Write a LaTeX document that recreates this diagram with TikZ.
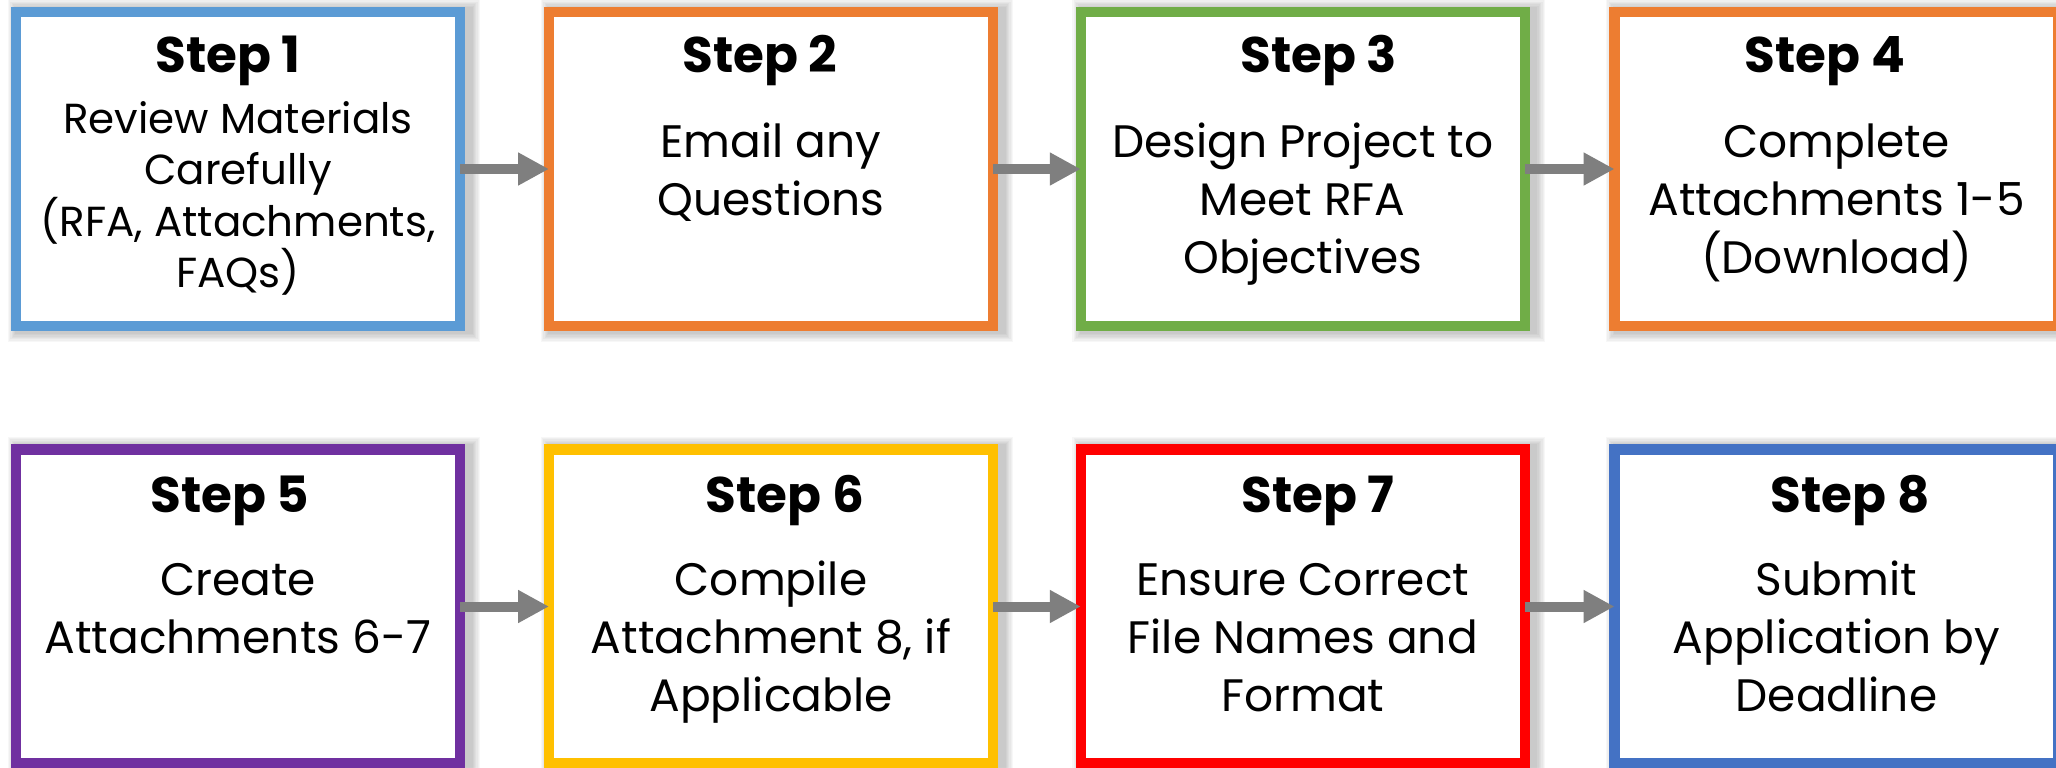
\documentclass[tikz,border=0pt]{standalone}
\usepackage{fontspec}
\setmainfont{Poppins}
\usetikzlibrary{arrows.meta,backgrounds}
\definecolor{cblue}{HTML}{5B9BD5}
\definecolor{corange}{HTML}{ED7D31}
\definecolor{cgreen}{HTML}{70AD47}
\definecolor{cpurple}{HTML}{7030A0}
\definecolor{cgold}{HTML}{FFC000}
\definecolor{cred}{HTML}{FF0000}
\definecolor{cdblue}{HTML}{4472C4}
\definecolor{arrowgray}{HTML}{7F7F7F}
\begin{document}
\begin{tikzpicture}[x=0.5pt,y=-0.5pt,
  stepbox/.style={draw=#1, fill=white, line width=5.25pt, minimum width=222pt, minimum height=157pt, inner sep=0pt, outer sep=0pt},
  headtext/.style={anchor=base, font=\bfseries\fontsize{25}{30}\selectfont, inner sep=0pt},
  bodytext/.style={anchor=base, align=center, font=\fontsize{22.75}{29}\selectfont, inner sep=0pt},
  smallbody/.style={bodytext, font=\fontsize{21}{25.75}\selectfont},
  arr/.style={draw=arrowgray, line width=5pt, -{Triangle[length=15.5pt,width=15.5pt]}},
]
\clip (0,0) rectangle (2056,767);
% boxes
\node[stepbox=cblue]   (s1) at (238,169) {};
\node[stepbox=corange] (s2) at (771,169) {};
\node[stepbox=cgreen]  (s3) at (1302.75,169) {};
\node[stepbox=corange] (s4) at (1836.5,169) {};
\node[stepbox=cpurple] (s5) at (238,606.5) {};
\node[stepbox=cgold]   (s6) at (771,606.5) {};
\node[stepbox=cred]    (s7) at (1302.75,606.5) {};
\node[stepbox=cdblue]  (s8) at (1836.5,606.5) {};
% background and soft shadows
\begin{scope}[on background layer]
\fill[white] (0,0) rectangle (2056,767);
\foreach \k in {1,...,8}{
  \foreach \i [evaluate=\i as \e using 5.25+1.3*\i] in {1,...,7}{
    \fill[black,opacity=0.03] ([shift={(6-\e,1.5-\e)}]s\k.north west) rectangle ([shift={(6+\e,1.5+\e)}]s\k.south east);
  }
}
\end{scope}
% headings
\node[headtext] (h1) at (228,72) {Step 1};
\node[headtext] (h2) at (760,72) {Step 2};
\node[headtext] (h3) at (1318.7,72) {Step 3};
\node[headtext] (h4) at (1825,72) {Step 4};
\node[headtext] (h5) at (230,512) {Step 5};
\node[headtext] (h6) at (785,512) {Step 6};
\node[headtext] (h7) at (1318,512) {Step 7};
\node[headtext] (h8) at (1850,512) {Step 8};
% bodies (anchor base = baseline of the last line)
\node[smallbody] (b1) at (238,287.5) {Review Materials\\Carefully\\(RFA, Attachments,\\FAQs)};
\node[bodytext] (b2) at (771,215) {Email any\\Questions};
\node[bodytext] (b3) at (1302.75,273) {Design Project to\\Meet RFA\\Objectives};
\node[bodytext] (b4) at (1836.5,273) {Complete\\Attachments 1-5\\(Download)};
\node[bodytext] (b5) at (238,653) {Create\\Attachments 6-7};
\node[bodytext] (b6) at (771,711.5) {Compile\\Attachment 8, if\\Applicable};
\node[bodytext] (b7) at (1302.75,711) {Ensure Correct\\File Names and\\Format};
\node[bodytext] (b8) at (1836.5,711) {Submit\\Application by\\Deadline};
% arrows
\draw[arr] (s1) -- (s2);
\draw[arr] (s2) -- (s3);
\draw[arr] (s3) -- (s4);
\draw[arr] (s5) -- (s6);
\draw[arr] (s6) -- (s7);
\draw[arr] (s7) -- (s8);
\end{tikzpicture}
\end{document}
